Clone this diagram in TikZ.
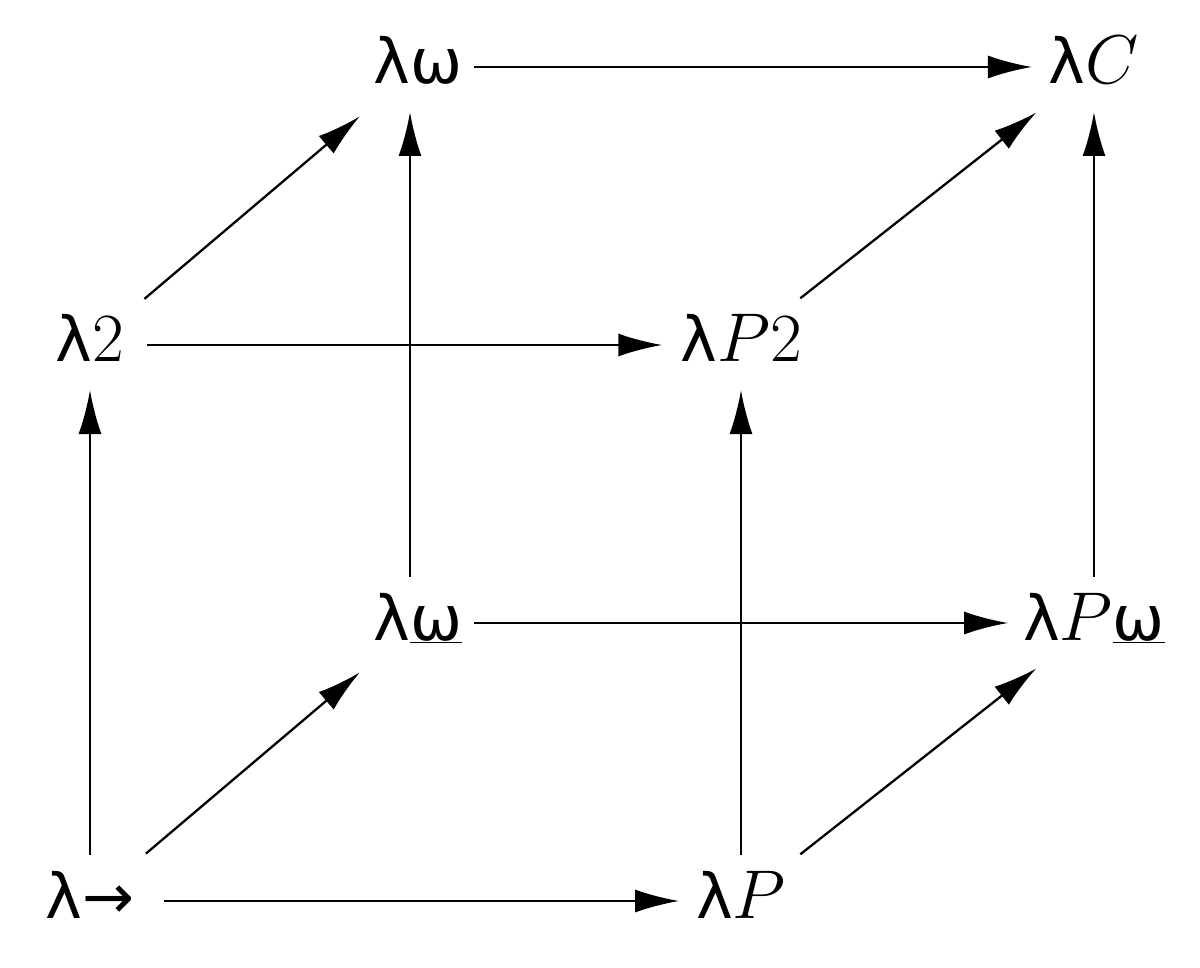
\RequirePackage{fix-cm}
\documentclass[tikz,border=0pt]{standalone}
\usepackage{fontspec}
\newfontfamily\dvfont[Scale=0.9]{DejaVu Sans}
\usetikzlibrary{arrows.meta}
\newcommand\lamb{{\dvfont λ}}
\newcommand\omg{\hbox{\dvfont ω}}
\begin{document}
\begin{tikzpicture}[x=1pt,y=-1pt,
  lbl/.style={inner sep=0pt,outer sep=0pt,anchor=base,text height=34pt,text depth=0pt,
    font=\fontsize{69}{80}\selectfont},
  arr/.style={line width=2.3pt,-{Latex[length=44pt,width=23pt]}}]
\useasboundingbox (0,0) rectangle (1200,968);
\fill[white] (0,0) rectangle (1200,968);
% nodes
\node[lbl] (lar) at (90,918) {\lamb{\dvfont →}};
\node[lbl] (lp)  at (741,918) {\lamb$P$};
\node[lbl] (l2)  at (90,362) {\lamb$2$};
\node[lbl] (lp2) at (741,362) {\lamb$P2$};
\node[lbl] (lwu) at (418,640) {\lamb$\underline{\omg}$};
\node[lbl] (lpwu) at (1094,640) {\lamb$P\underline{\omg}$};
\node[lbl] (lw)  at (418,84) {\lamb\omg};
\node[lbl] (lc)  at (1094,84) {\lamb$C$};
% horizontal
\draw[arr,shorten <=30pt,shorten >=17pt] (lar) -- (lp);
\draw[arr,shorten <=23pt,shorten >=18pt] (l2) -- (lp2);
\draw[arr,shorten <=12pt,shorten >=15pt] (lwu) -- (lpwu);
\draw[arr,shorten <=12pt,shorten >=17pt] (lw) -- (lc);
% vertical
\draw[arr,shorten <=29pt,shorten >=28pt] (lar) -- (l2);
\draw[arr,shorten <=29pt,shorten >=28pt] (lp) -- (lp2);
\draw[arr,shorten <=29pt,shorten >=28pt] (lpwu) -- (lc);
\draw[arr,shorten <=29pt,shorten >=28pt] ([xshift=-8pt]lwu.north) -- ([xshift=-8pt]lw.south);
% diagonal
\draw[arr,shorten <=47pt,shorten >=50pt] (lar) -- (lwu);
\draw[arr,shorten <=45pt,shorten >=50pt] (l2) -- (lw);
\draw[arr,shorten <=48pt,shorten >=46pt] (lp) -- (lpwu);
\draw[arr,shorten <=48pt,shorten >=46pt] (lp2) -- (lc);
\end{tikzpicture}
\end{document}
